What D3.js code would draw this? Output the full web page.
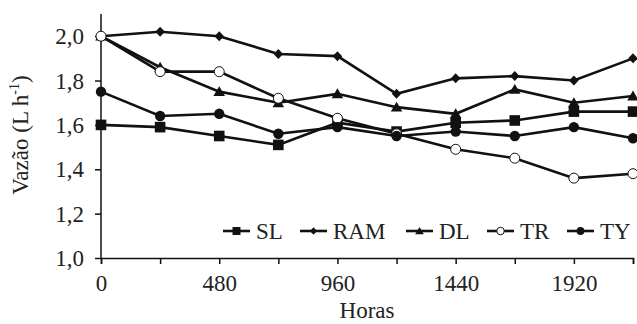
<!DOCTYPE html>
<html>
<head>
<meta charset="utf-8">
<script src="https://cdn.jsdelivr.net/npm/d3@7"></script>
</head>
<body style="margin:0">
<script>
var horas = [0, 240, 480, 720, 960, 1200, 1440, 1680, 1920, 2160];
var xTicks = [0, 480, 960, 1440, 1920];
var yTicks = [1.0, 1.2, 1.4, 1.6, 1.8, 2.0];

var SL  = [1.60, 1.59, 1.55, 1.51, 1.61, 1.57, 1.61, 1.62, 1.66, 1.66];
var RAM = [2.00, 2.02, 2.00, 1.92, 1.91, 1.74, 1.81, 1.82, 1.80, 1.90];
var DL  = [2.00, 1.86, 1.75, 1.70, 1.74, 1.68, 1.65, 1.76, 1.70, 1.73];
var TR  = [2.00, 1.84, 1.84, 1.72, 1.63, 1.56, 1.49, 1.45, 1.36, 1.38];
var TY  = [1.75, 1.64, 1.65, 1.56, 1.59, 1.55, 1.57, 1.55, 1.59, 1.54];

var seriesNames = ["SL", "RAM", "DL", "TR", "TY"];
var seriesValues = [SL, RAM, DL, TR, TY];

var margin = {top: 14, right: 4, bottom: 66, left: 101};

var root = d3.select("body")
  .append("svg")
    .attr("width", 637)
    .attr("height", 324)
    .style("font-family", "Liberation Serif")
    .style("font-size", "23px");
var svg = root.append("g")
    .attr("transform", "translate(" + margin.left + "," + margin.top + ")");

var x = d3.scaleLinear().domain([0, 2160]).range([0, 532]);
var y = d3.scaleLinear().domain([1.0, 2.1]).range([244, 0]);

var fmt = function(d) { return d3.format(".1f")(d).replace(".", ","); };

// axes
var xAxis = svg.append("g")
  .attr("transform", "translate(0," + y(1.0) + ")")
  .call(d3.axisBottom(x).tickValues(horas).tickSize(6).tickFormat(function(d) {
    return xTicks.indexOf(d) >= 0 ? d : "";
  }));
var yAxis = svg.append("g")
  .call(d3.axisLeft(y).tickValues(yTicks).tickSize(6).tickFormat(fmt));

[xAxis, yAxis].forEach(function(a) {
  a.attr("font-family", null).attr("font-size", null);
  a.select(".domain").attr("stroke", "#111").attr("stroke-width", 1.5);
  a.selectAll(".tick line").attr("stroke", "#111").attr("stroke-width", 1.5);
  a.selectAll("text").attr("fill", "#222");
});
xAxis.selectAll("text").attr("dy", "0").attr("y", 33);
yAxis.selectAll("text").attr("x", -17).attr("dy", "0.33em");
// axis line runs up past 2,0
yAxis.select(".domain").attr("d", "M0," + y(2.1) + "V" + y(1.0));

svg.append("text")
  .attr("x", x(1080))
  .attr("y", 304)
  .attr("text-anchor", "middle")
  .attr("fill", "#222")
  .text("Horas");

var yl = svg.append("text")
  .attr("transform", "translate(-73," + 121 + ") rotate(-90)")
  .attr("text-anchor", "middle")
  .attr("fill", "#222");
yl.append("tspan").text("Vazão (L h");
yl.append("tspan").attr("dy", -9).style("font-size", "14px").text("-1");
yl.append("tspan").attr("dy", 9).text(")");

// markers
function drawMarker(g, name, cx, cy, s) {
  var t = "translate(" + cx + "," + cy + ")";
  if (name === "SL") {
    g.append("rect").attr("x", cx - s).attr("y", cy - s)
      .attr("width", 2 * s).attr("height", 2 * s).attr("fill", "#111");
  } else if (name === "RAM") {
    g.append("path").attr("transform", t).attr("fill", "#111")
      .attr("d", "M0," + (-s) + "L" + (s * 0.95) + ",0L0," + s + "L" + (-s * 0.95) + ",0Z");
  } else if (name === "DL") {
    g.append("path").attr("transform", t).attr("fill", "#111")
      .attr("d", "M0," + (-s) + "L" + (s * 1.05) + "," + (s * 0.8) + "L" + (-s * 1.05) + "," + (s * 0.8) + "Z");
  } else if (name === "TR") {
    g.append("circle").attr("cx", cx).attr("cy", cy).attr("r", s)
      .attr("fill", "#fff").attr("stroke", "#111").attr("stroke-width", 1);
  } else {
    g.append("circle").attr("cx", cx).attr("cy", cy).attr("r", s).attr("fill", "#111");
  }
}

var line = d3.line()
  .x(function(d, i) { return x(horas[i]); })
  .y(function(d) { return y(d); });

var markerSize = {SL: 5.3, RAM: 5, DL: 5.5, TR: 5, TY: 5.2};

seriesNames.forEach(function(name, k) {
  var vals = seriesValues[k];
  var g = svg.append("g");
  g.append("path")
    .datum(vals)
    .attr("d", line)
    .attr("fill", "none")
    .attr("stroke", "#111")
    .attr("stroke-width", 2.6);
  vals.forEach(function(v, i) {
    drawMarker(g, name, x(horas[i]), y(v), markerSize[name]);
  });
});

// legend
var legX = [122, 199, 305, 386, 466];
var leg = svg.append("g").attr("transform", "translate(0," + 217 + ")");
seriesNames.forEach(function(name, k) {
  var lg = leg.append("g").attr("transform", "translate(" + legX[k] + ",0)");
  lg.append("line").attr("x1", 0).attr("x2", 27)
    .attr("stroke", "#111").attr("stroke-width", 2.6);
  drawMarker(lg, name, 13.5, 0, markerSize[name] * 0.75);
  lg.append("text").attr("x", 33).attr("dy", "0.34em")
    .attr("fill", "#222")
    .text(name);
});
</script>
</body>
</html>
